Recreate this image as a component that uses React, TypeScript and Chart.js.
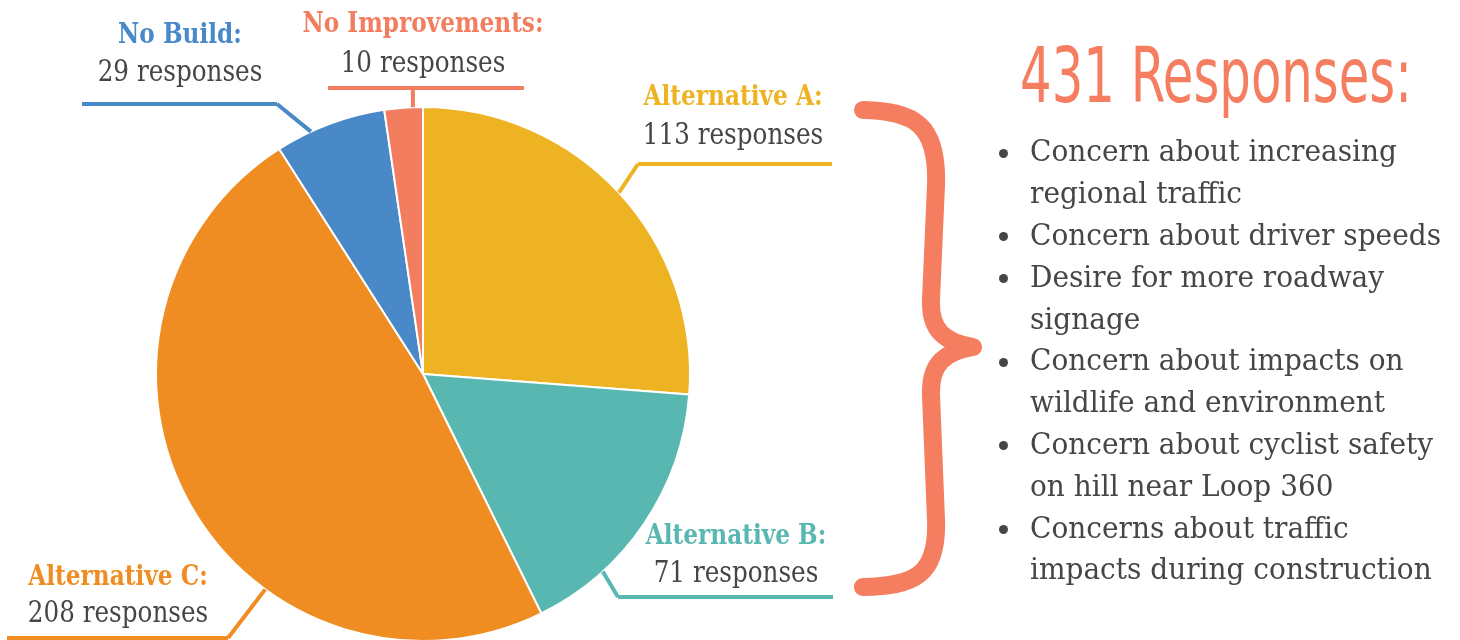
import React, { useEffect, useLayoutEffect, useRef } from "react";
import { Chart, registerables } from "chart.js";

Chart.register(...registerables);

// ---- data ----
const categories = ["Alternative A", "Alternative B", "Alternative C", "No Build", "No Improvements"];
const responses = [113, 71, 208, 29, 10];
const sliceColors = ["#EDB322", "#58B8B1", "#F08D22", "#4A89C8", "#F27D5F"];
const concerns: string[][] = [
  ["Concern about increasing", "regional traffic"],
  ["Concern about driver speeds"],
  ["Desire for more roadway", "signage"],
  ["Concern about impacts on", "wildlife and environment"],
  ["Concern about cyclist safety", "on hill near Loop 360"],
  ["Concerns about traffic", "impacts during construction"],
];

// ---- layout for annotations (callout labels) ----
const LABEL_LAYOUT = [
  { cx: 733, titleBase: 105, countBase: 145, lineY: 164, x0: 638, x1: 832, elbowX: 638, frac: 0.5 },
  { cx: 736, titleBase: 544, countBase: 583, lineY: 597, x0: 618, x1: 833, elbowX: 618, frac: 0.73 },
  { cx: 118, titleBase: 585, countBase: 623, lineY: 638, x0: 7, x1: 228, elbowX: 228, frac: 0.36 },
  { cx: 180, titleBase: 43, countBase: 82, lineY: 104, x0: 82, x1: 277, elbowX: 277, frac: 0.32 },
  { cx: 423, titleBase: 32, countBase: 73, lineY: 88, x0: 328, x1: 524, elbowX: null as number | null, frac: 0.74 },
];

const TEXT_GRAY = "#464646";
const ACCENT = "#F47E5F";
const SERIF = "'DejaVu Serif', 'Liberation Serif', serif";
const LABEL_F = 29;
const TITLE_F = 27;
const LIST_F = 29;
const LIST_BASE = 162;
const LIST_STEP = 41.8;
const HEAD_F = 77;
const HEAD_LEFT = 1020;
const HEAD_WIDTH = 392;

const leaderPlugin = {
  id: "leaders",
  afterDatasetsDraw(chart: any) {
    const ctx = chart.ctx;
    const meta = chart.getDatasetMeta(0);
    ctx.save();
    ctx.lineWidth = 4;
    ctx.lineCap = "butt";
    ctx.lineJoin = "miter";
    meta.data.forEach((arc: any, i: number) => {
      const L = LABEL_LAYOUT[i];
      if (!L) return;
      const a = arc.startAngle + L.frac * (arc.endAngle - arc.startAngle);
      const sx = arc.x + arc.outerRadius * Math.cos(a);
      const sy = arc.y + arc.outerRadius * Math.sin(a);
      const ex = L.elbowX == null ? sx : L.elbowX;
      ctx.strokeStyle = sliceColors[i];
      ctx.beginPath();
      ctx.moveTo(sx, sy);
      ctx.lineTo(ex, L.lineY);
      ctx.stroke();
      ctx.beginPath();
      ctx.moveTo(L.x0, L.lineY);
      ctx.lineTo(L.x1, L.lineY);
      ctx.stroke();
    });
    ctx.restore();
  },
};

export default function App() {
  const canvasRef = useRef<HTMLCanvasElement | null>(null);
  const headRef = useRef<HTMLDivElement | null>(null);

  useLayoutEffect(() => {
    const el = headRef.current;
    if (!el) return;
    const w = el.offsetWidth;
    if (w > 0) el.style.transform = `scaleX(${HEAD_WIDTH / w})`;
  }, []);

  useEffect(() => {
    if (!canvasRef.current) return;
    const chart = new Chart(canvasRef.current, {
      type: "pie",
      data: {
        labels: categories,
        datasets: [
          {
            data: responses,
            backgroundColor: sliceColors,
            borderColor: "#ffffff",
            borderWidth: 2,
          },
        ],
      },
      options: {
        responsive: false,
        animation: false,
        devicePixelRatio: 1,
        layout: { padding: { left: 155, top: 106, right: 769, bottom: 18 } },
        plugins: {
          legend: { display: false },
          tooltip: { enabled: false },
          title: { display: false },
        },
      },
      plugins: [leaderPlugin],
    });
    return () => chart.destroy();
  }, []);

  const total = responses.reduce((s, v) => s + v, 0);

  const labelStyle = (cx: number, base: number, F: number, bold: boolean, color: string, sx: number): React.CSSProperties => ({
    position: "absolute",
    left: cx,
    top: base - 0.846 * F,
    fontFamily: SERIF,
    fontSize: F,
    lineHeight: `${F}px`,
    fontWeight: bold ? 700 : 400,
    color,
    whiteSpace: "nowrap",
    transform: `translateX(-50%) scaleX(${sx})`,
    transformOrigin: "center",
  });

  let lineIdx = 0;
  const listNodes: React.ReactNode[] = [];
  concerns.forEach((item, k) => {
    item.forEach((line, j) => {
      const base = LIST_BASE + LIST_STEP * lineIdx;
      if (j === 0) {
        listNodes.push(
          <div
            key={`b${k}`}
            style={{
              position: "absolute",
              left: 1003 - 4.5,
              top: base - 9 - 4.5,
              width: 9,
              height: 9,
              borderRadius: "50%",
              background: TEXT_GRAY,
            }}
          />
        );
      }
      listNodes.push(
        <div
          key={`l${k}-${j}`}
          style={{
            position: "absolute",
            left: 1030,
            top: base - 0.846 * LIST_F,
            fontFamily: SERIF,
            fontSize: LIST_F,
            lineHeight: `${LIST_F}px`,
            color: TEXT_GRAY,
            whiteSpace: "nowrap",
            transform: "scaleX(0.965)",
            transformOrigin: "left center",
          }}
        >
          {line}
        </div>
      );
      lineIdx++;
    });
  });

  return (
    <div
      style={{
        position: "absolute",
        left: 0,
        top: 0,
        width: 1460,
        height: 640,
        overflow: "hidden",
        background: "#ffffff",
      }}
    >
      <canvas
        ref={canvasRef}
        width={1460}
        height={660}
        style={{ position: "absolute", left: 0, top: 0, width: 1460, height: 660 }}
      />
      {categories.map((c, i) => (
        <React.Fragment key={c}>
          <div style={labelStyle(LABEL_LAYOUT[i].cx, LABEL_LAYOUT[i].titleBase, TITLE_F, true, sliceColors[i], 0.86)}>
            {c}:
          </div>
          <div style={labelStyle(LABEL_LAYOUT[i].cx, LABEL_LAYOUT[i].countBase, LABEL_F, false, TEXT_GRAY, 0.85)}>
            {responses[i]} responses
          </div>
        </React.Fragment>
      ))}
      <svg
        width={1460}
        height={640}
        style={{ position: "absolute", left: 0, top: 0, pointerEvents: "none" }}
      >
        <path
          d="M 863 110 C 915 111, 938 125, 936 185 L 931 300 C 930 330, 944 342, 973 347 C 944 352, 930 364, 931 395 L 936 520 C 938 575, 915 586, 863 587"
          fill="none"
          stroke={ACCENT}
          strokeWidth={18}
          strokeLinecap="round"
          strokeLinejoin="round"
        />
      </svg>
      <div
        ref={headRef}
        style={{
          position: "absolute",
          left: HEAD_LEFT,
          top: 102 - 0.846 * HEAD_F,
          fontFamily: "'Liberation Sans Narrow', 'DejaVu Sans Condensed', 'Liberation Sans', sans-serif",
          fontSize: HEAD_F,
          lineHeight: `${HEAD_F}px`,
          color: ACCENT,
          whiteSpace: "nowrap",
          transformOrigin: "left center",
        }}
      >
        {total} Responses:
      </div>
      {listNodes}
    </div>
  );
}
